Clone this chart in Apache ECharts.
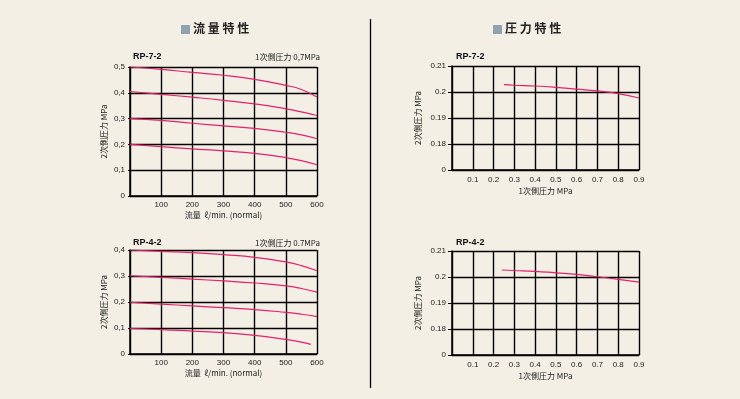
<!DOCTYPE html>
<html lang="ja">
<head>
    <meta charset="UTF-8">
    <title>流量特性 / 圧力特性</title>
    <script src="https://cdn.jsdelivr.net/npm/echarts@6/dist/echarts.min.js"></script>
    <style>
        html, body {
            margin: 0;
            padding: 0;
            background: #f4efe4;
        }

        #main {
            width: 740px;
            height: 399px;
        }
    </style>
</head>
<body>
<div id="main"></div>
<script type="application/javascript">
    // 流量特性 (x: ℓ/min, y: MPa)
    var flowX = [0, 100, 200, 300, 400, 500, 550, 600];
    var rp72Flow = [
        [0.500, 0.491, 0.479, 0.468, 0.452, 0.429, 0.413, 0.384],
        [0.405, 0.394, 0.383, 0.371, 0.357, 0.338, 0.326, 0.312],
        [0.300, 0.293, 0.282, 0.272, 0.262, 0.247, 0.237, 0.222],
        [0.200, 0.191, 0.183, 0.175, 0.165, 0.149, 0.137, 0.121]
    ];
    var rp42FlowX = [0, 100, 200, 300, 400, 500, 550, 580];
    var rp42Flow = [
        [0.400, 0.395, 0.390, 0.382, 0.372, 0.354, 0.340, 0.320],
        [0.301, 0.295, 0.288, 0.281, 0.273, 0.262, 0.252, 0.238],
        [0.199, 0.192, 0.185, 0.178, 0.171, 0.160, 0.153, 0.144],
        [0.098, 0.094, 0.088, 0.082, 0.072, 0.056, 0.046, 0.037]
    ];
    // rp42 の上3本は 600 まで
    var rp42FlowXFull = [0, 100, 200, 300, 400, 500, 550, 600];

    // 圧力特性 (x: 1次側 MPa, y: 2次側 MPa)
    var rp72PX = [0.25, 0.3, 0.4, 0.5, 0.6, 0.7, 0.8, 0.9];
    var rp72P = [0.2028, 0.2026, 0.2023, 0.2018, 0.2011, 0.2004, 0.1994, 0.1977];
    var rp42PX = [0.24, 0.3, 0.4, 0.5, 0.6, 0.7, 0.8, 0.9];
    var rp42P = [0.2027, 0.2025, 0.2022, 0.2016, 0.2010, 0.2001, 0.1991, 0.1980];
    var pTickLabels = ['0', '0.18', '0.19', '0.2', '0.21'];

    var pink = '#e5206f';
    var fontFamily = '"Liberation Sans", Arial, sans-serif';
    var cjkFont = '"Noto Sans CJK JP", sans-serif';

    // 圧力軸は 0 → 0.18 を飛ばしているので段に直す
    function pStep(v) {
        return (v - 0.17) * 100;
    }

    function pairs(xs, ys, fn) {
        return xs.map(function (x, i) {
            return [x, fn ? fn(ys[i]) : ys[i]];
        });
    }

    function comma(v) {
        return v === 0 ? '0' : String(+v.toFixed(2)).replace('.', ',');
    }

    var grids = [
        {left: 130, top: 67, width: 187, height: 129},
        {left: 130, top: 250, width: 187, height: 104},
        {left: 452, top: 66, width: 187, height: 104},
        {left: 452, top: 251, width: 187, height: 104}
    ];

    var axisText = {color: '#222', fontSize: 8, fontFamily: fontFamily};
    var nameText = {color: '#222', fontSize: 8, fontFamily: cjkFont};

    function baseAxis(extra) {
        var a = {
            type: 'value',
            axisLine: {show: true, lineStyle: {color: '#000', width: 1.5}},
            axisTick: {show: false},
            splitLine: {show: true, lineStyle: {color: '#000', width: 1.4}},
            axisLabel: Object.assign({margin: 5}, axisText),
            nameTextStyle: nameText
        };
        return Object.assign(a, extra);
    }

    var xAxes = [
        baseAxis({gridIndex: 0, min: 0, max: 600, interval: 100, name: '流量  ℓ/min. (normal)',
            nameLocation: 'middle', nameGap: 15,
            axisLabel: Object.assign({margin: 5, formatter: function (v) { return v === 0 ? '' : v; }}, axisText)}),
        baseAxis({gridIndex: 1, min: 0, max: 600, interval: 100, name: '流量  ℓ/min. (normal)',
            nameLocation: 'middle', nameGap: 15,
            axisLabel: Object.assign({margin: 5, formatter: function (v) { return v === 0 ? '' : v; }}, axisText)}),
        baseAxis({gridIndex: 2, min: 0, max: 0.9, interval: 0.1, name: '1次側圧力 MPa',
            nameLocation: 'middle', nameGap: 17,
            axisLabel: Object.assign({margin: 6, formatter: function (v) { return v === 0 ? '' : +v.toFixed(1); }}, axisText)}),
        baseAxis({gridIndex: 3, min: 0, max: 0.9, interval: 0.1, name: '1次側圧力 MPa',
            nameLocation: 'middle', nameGap: 17,
            axisLabel: Object.assign({margin: 6, formatter: function (v) { return v === 0 ? '' : +v.toFixed(1); }}, axisText)})
    ];

    var yAxes = [
        baseAxis({gridIndex: 0, min: 0, max: 0.5, interval: 0.1, name: '2次側圧力 MPa',
            nameLocation: 'middle', nameGap: 22,
            axisTick: {show: true, length: 2, lineStyle: {color: '#000'}},
            axisLabel: Object.assign({margin: 5, formatter: comma}, axisText)}),
        baseAxis({gridIndex: 1, min: 0, max: 0.4, interval: 0.1, name: '2次側圧力 MPa',
            nameLocation: 'middle', nameGap: 22,
            axisTick: {show: true, length: 2, lineStyle: {color: '#000'}},
            axisLabel: Object.assign({margin: 5, formatter: comma}, axisText)}),
        baseAxis({gridIndex: 2, min: 0, max: 4, interval: 1, name: '2次側圧力 MPa',
            nameLocation: 'middle', nameGap: 30,
            axisTick: {show: true, length: 4, lineStyle: {color: '#000'}},
            axisLabel: Object.assign({margin: 6, formatter: function (v) { return pTickLabels[v]; }}, axisText)}),
        baseAxis({gridIndex: 3, min: 0, max: 4, interval: 1, name: '2次側圧力 MPa',
            nameLocation: 'middle', nameGap: 30,
            axisTick: {show: true, length: 4, lineStyle: {color: '#000'}},
            axisLabel: Object.assign({margin: 6, formatter: function (v) { return pTickLabels[v]; }}, axisText)})
    ];

    var series = [];

    function addLine(idx, data) {
        series.push({
            type: 'line',
            xAxisIndex: idx,
            yAxisIndex: idx,
            smooth: true,
            showSymbol: false,
            silent: true,
            lineStyle: {color: pink, width: 1.2},
            data: data
        });
    }

    rp72Flow.forEach(function (ys) {
        addLine(0, pairs(flowX, ys));
    });
    rp42Flow.forEach(function (ys, i) {
        addLine(1, pairs(i === 3 ? rp42FlowX : rp42FlowXFull, ys));
    });
    addLine(2, pairs(rp72PX, rp72P, pStep));
    addLine(3, pairs(rp42PX, rp42P, pStep));

    function label(text, left, top, opts) {
        return Object.assign({
            text: text,
            left: left,
            top: top,
            textStyle: {fontSize: 9, fontWeight: 'bold', color: '#111', fontFamily: fontFamily}
        }, opts || {});
    }

    var subStyle = {fontSize: 8, fontWeight: 'normal', color: '#222', fontFamily: cjkFont};

    var titles = [
        label('RP-7-2', 128, 47),
        label('RP-4-2', 128, 233),
        label('RP-7-2', 451, 47),
        label('RP-4-2', 451, 233),
        label('1次側圧力 0,7MPa', 250, 48, {textStyle: subStyle}),
        label('1次側圧力 0.7MPa', 250, 234, {textStyle: subStyle})
    ];

    var myChart = echarts.init(document.getElementById('main'));

    var option = {
        backgroundColor: '#f4efe4',
        animation: false,
        title: titles,
        grid: grids,
        xAxis: xAxes,
        yAxis: yAxes,
        series: series,
        graphic: [
            {type: 'rect', shape: {x: 181, y: 25, width: 9, height: 9}, style: {fill: '#8fa3b1'}},
            {type: 'text', x: 193, y: 22, style: {text: '流 量 特 性', fontSize: 12, fontWeight: 'bold',
                    fill: '#222', fontFamily: cjkFont}},
            {type: 'rect', shape: {x: 493, y: 25, width: 9, height: 9}, style: {fill: '#8fa3b1'}},
            {type: 'text', x: 505, y: 22, style: {text: '圧 力 特 性', fontSize: 12, fontWeight: 'bold',
                    fill: '#222', fontFamily: cjkFont}},
            {type: 'line', shape: {x1: 370.5, y1: 19, x2: 370.5, y2: 388}, style: {stroke: '#000', lineWidth: 1.3}}
        ]
    };

    myChart.setOption(option);
</script>
</body>
</html>
